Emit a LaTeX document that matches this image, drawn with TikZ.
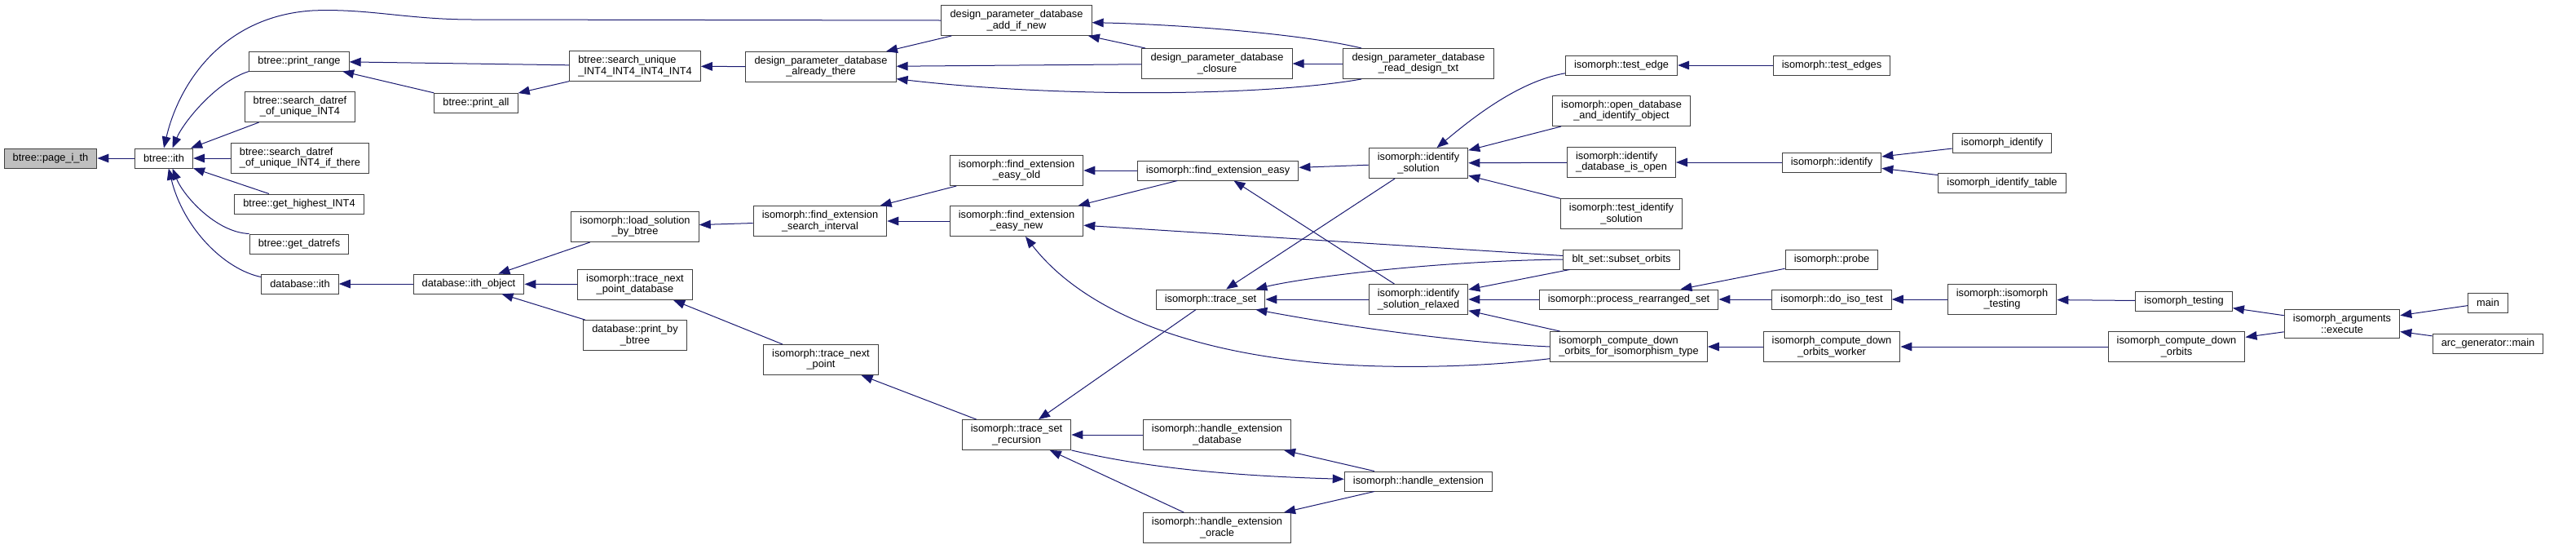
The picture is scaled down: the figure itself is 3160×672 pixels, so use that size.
\documentclass[tikz,border=0pt]{standalone}
\usepackage{fontspec}
\setmainfont{Liberation Sans}
\usepackage{tikz}
\usetikzlibrary{arrows.meta}
\definecolor{edgeblue}{HTML}{191970}
\definecolor{boxline}{HTML}{404040}
\definecolor{focusgray}{HTML}{BFBFBF}

\begin{document}
\begin{tikzpicture}[
    x=0.75pt, y=-0.75pt,
    every node/.style={draw=boxline, fill=white, line width=0.75pt, inner xsep=8pt, inner ysep=4.4pt, minimum height=18pt, align=center, font=\fontsize{9.6}{10}\selectfont},
    focus/.style={fill=focusgray},
    lft/.style={align=left},
    call/.style={draw=edgeblue, line width=0.75pt, {Triangle[length=10.5pt, width=8pt]}-}
]
\useasboundingbox (0,0) rectangle (3160,672);

\node[focus] (page) at (62,194) {btree::page\_i\_th};
\node (ith) at (201,194) {btree::ith};
\node (prange) at (367,75) {btree::print\_range};
\node (sdatref) at (368,131) {btree::search\_datref\\\_of\_unique\_INT4};
\node[lft] (sthere) at (368,194) {btree::search\_datref\\\_of\_unique\_INT4\_if\_there};
\node (highest) at (367,250) {btree::get\_highest\_INT4};
\node (datrefs) at (367,299) {btree::get\_datrefs};
\node (dbith) at (368,348) {database::ith};
\node (printall) at (584,126) {btree::print\_all};
\node[lft] (sunique) at (779,81) {btree::search\_unique\\\_INT4\_INT4\_INT4\_INT4};
\node (already) at (1007,82) {design\_parameter\_database\\\_already\_there};
\node (addnew) at (1247,25) {design\_parameter\_database\\\_add\_if\_new};
\node (closure) at (1493,78) {design\_parameter\_database\\\_closure};
\node (readtxt) at (1740,78) {design\_parameter\_database\\\_read\_design\_txt};
\node (dbobj) at (575,348) {database::ith\_object};
\node (loadsol) at (779,278) {isomorph::load\_solution\\\_by\_btree};
\node (tnpdb) at (779,349) {isomorph::trace\_next\\\_point\_database};
\node (printby) at (779,411) {database::print\_by\\\_btree};
\node (interval) at (1006,271) {isomorph::find\_extension\\\_search\_interval};
\node (tnp) at (1007,441) {isomorph::trace\_next\\\_point};
\node (easyold) at (1247,209) {isomorph::find\_extension\\\_easy\_old};
\node (easynew) at (1247,271) {isomorph::find\_extension\\\_easy\_new};
\node (recursion) at (1247,533) {isomorph::trace\_set\\\_recursion};
\node (easy) at (1494,209) {isomorph::find\_extension\_easy};
\node (traceset) at (1485,367) {isomorph::trace\_set};
\node (hedb) at (1493,533) {isomorph::handle\_extension\\\_database};
\node (heor) at (1493,647) {isomorph::handle\_extension\\\_oracle};
\node (idsol) at (1740,200) {isomorph::identify\\\_solution};
\node[lft] (relaxed) at (1740,367) {isomorph::identify\\\_solution\_relaxed};
\node (hext) at (1740,590) {isomorph::handle\_extension};
\node (testedge) at (1989,80) {isomorph::test\_edge};
\node (openid) at (1989,136) {isomorph::open\_database\\\_and\_identify\_object};
\node[lft] (idopen) at (1989,199) {isomorph::identify\\\_database\_is\_open};
\node (testidsol) at (1989,262) {isomorph::test\_identify\\\_solution};
\node (subset) at (1989,318) {blt\_set::subset\_orbits};
\node (rearr) at (1998,367) {isomorph::process\_rearranged\_set};
\node[lft] (cdoiso) at (1998,425) {isomorph\_compute\_down\\\_orbits\_for\_isomorphism\_type};
\node (testedges) at (2247,80) {isomorph::test\_edges};
\node (identify) at (2247,199) {isomorph::identify};
\node (probe) at (2247,318) {isomorph::probe};
\node (isotest) at (2247,367) {isomorph::do\_iso\_test};
\node (worker) at (2247,425) {isomorph\_compute\_down\\\_orbits\_worker};
\node (idf) at (2456,175) {isomorph\_identify};
\node (idftable) at (2456,224) {isomorph\_identify\_table};
\node (isoiso) at (2456,367) {isomorph::isomorph\\\_testing};
\node (isotesting) at (2679,369) {isomorph\_testing};
\node (cdo) at (2670,425) {isomorph\_compute\_down\\\_orbits};
\node (execute) at (2873,397) {isomorph\_arguments\\::execute};
\node (main) at (3052,371) {main};
\node (arcmain) at (3052,421) {arc\_generator::main};

\draw[call] (page) -- (ith);
\draw[call] (ith.north) .. controls (220,100) and (275,20) .. (383,13) .. controls (450,10) and (500,24) .. (580,24) -- (addnew.west);
\draw[call] (ith.50) .. controls (225,150) and (265,100) .. (prange.south west);
\draw[call] (ith) -- (sdatref);
\draw[call] (ith) -- (sthere);
\draw[call] (ith) -- (highest);
\draw[call] (ith.-50) .. controls (225,240) and (265,285) .. (datrefs.north west);
\draw[call] (ith.-65) .. controls (225,280) and (275,330) .. (dbith.170);
\draw[call] (prange) -- (sunique);
\draw[call] (prange) -- (printall);
\draw[call] (printall) -- (sunique);
\draw[call] (sunique) -- (already);
\draw[call] (already) -- (addnew);
\draw[call] (already) -- (closure);
\draw[call] ([yshift=-11pt]already.east) .. controls (1300,120) and (1550,118) .. ([xshift=17pt]readtxt.south west);
\draw[call] ([yshift=-2pt]addnew.east) .. controls (1450,30) and (1600,42) .. ([xshift=17pt]readtxt.north west);
\draw[call] (addnew) -- (closure);
\draw[call] (closure) -- (readtxt);
\draw[call] (dbith) -- (dbobj);
\draw[call] (dbobj) -- (loadsol);
\draw[call] (dbobj) -- (tnpdb);
\draw[call] (dbobj) -- (printby);
\draw[call] (loadsol) -- (interval);
\draw[call] (interval) -- (easyold);
\draw[call] (interval) -- (easynew);
\draw[call] (easyold) -- (easy);
\draw[call] (easynew) -- (easy);
\draw[call] (easynew) -- (subset);
\draw[call] (easynew.-60) .. controls (1320,370) and (1430,425) .. (1600,443) .. controls (1680,452) and (1800,452) .. ([yshift=-11pt]cdoiso.west);
\draw[call] (easy) -- (idsol);
\draw[call] (easy) -- (relaxed);
\draw[call] (tnpdb) -- (tnp);
\draw[call] (tnp) -- (recursion);
\draw[call] (recursion) -- (traceset);
\draw[call] (recursion) -- (hedb);
\draw[call] (recursion) -- (heor);
\draw[call] ([yshift=2pt]hext.west) .. controls (1500,583) and (1400,572) .. (recursion.south east);
\draw[call] (hedb) -- (hext);
\draw[call] (heor) -- (hext);
\draw[call] (traceset) -- (idsol);
\draw[call] ([xshift=-9pt]traceset.north east) .. controls (1600,340) and (1760,320) .. (subset.west);
\draw[call] (traceset) -- (relaxed);
\draw[call] ([xshift=-9pt]traceset.south east) .. controls (1650,400) and (1790,420) .. (cdoiso.west);
\draw[call] (idsol.40) .. controls (1800,150) and (1860,100) .. ([yshift=2pt]testedge.south west);
\draw[call] (idsol) -- (openid);
\draw[call] (idsol) -- (idopen);
\draw[call] (idsol) -- (testidsol);
\draw[call] (relaxed) -- (subset);
\draw[call] (relaxed) -- (rearr);
\draw[call] (relaxed) -- (cdoiso);
\draw[call] (testedge) -- (testedges);
\draw[call] (idopen) -- (identify);
\draw[call] (identify) -- (idf);
\draw[call] (identify) -- (idftable);
\draw[call] (rearr) -- (probe);
\draw[call] (rearr) -- (isotest);
\draw[call] (isotest) -- (isoiso);
\draw[call] (isoiso) -- (isotesting);
\draw[call] (isotesting) -- (execute);
\draw[call] (cdoiso) -- (worker);
\draw[call] (worker) -- (cdo);
\draw[call] (cdo) -- (execute);
\draw[call] (execute) -- (main);
\draw[call] (execute) -- (arcmain);
\end{tikzpicture}
\end{document}
